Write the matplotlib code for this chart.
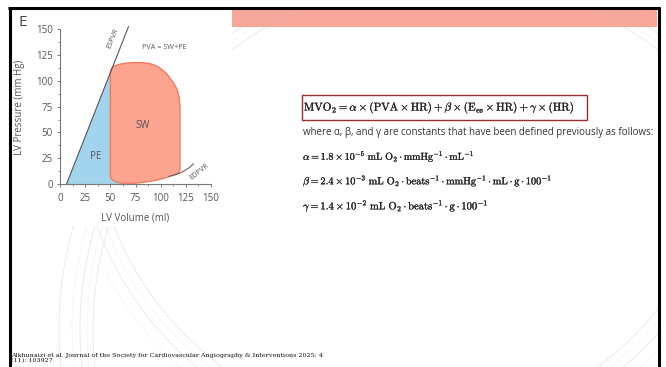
import numpy as np
import matplotlib.pyplot as plt
import matplotlib.patheffects as pe
from matplotlib.patches import Rectangle, Circle, Polygon

plt.rcParams['mathtext.fontset'] = 'cm'

# pressure-volume loop (LV volume in ml, LV pressure in mm Hg)
vol_ticks = [0, 25, 50, 75, 100, 125, 150]
pres_ticks = [0, 25, 50, 75, 100, 125, 150]

espvr_vol = [6.5, 68]
espvr_pres = [0, 152.5]

loop_top_vol = [50, 50, 50.6, 52, 55, 60, 67, 75, 82, 89, 95, 100, 104, 107.5,
                110, 112.5, 115, 117, 118.5, 119.2, 119.2, 118.5, 117]
loop_top_pres = [7, 108, 110.8, 113, 114.8, 116.3, 117.4, 117.8, 117.8, 116.8,
                 114.8, 112, 108.8, 105, 101.5, 98.5, 94.5, 89.5, 83, 76, 14,
                 11.5, 10.2]
loop_bottom_vol = [110, 104.3, 97, 88, 80, 74.5, 67, 61, 57, 53.5, 51.2, 50.2]
loop_bottom_pres = [7.8, 5.8, 4.0, 2.3, 1.3, 0.8, 0.7, 0.9, 1.6, 3.0, 5.0, 7.0]

edpvr_vol = [108, 114, 119, 124, 128.5, 132.5]
edpvr_pres = [7.3, 8.8, 10.5, 13, 16, 19.5]

citation = ("Alkhunaizi et al. Journal of the Society for Cardiovascular "
            "Angiography & Interventions 2025; 4\n(11): 103927")

W, H = 666, 367
fig = plt.figure(figsize=(W / 100, H / 100), dpi=100)

# slide background in pixel units
bg = fig.add_axes([0, 0, 1, 1])
bg.set_xlim(0, W)
bg.set_ylim(H, 0)
bg.axis('off')

bg.add_patch(Rectangle((232, 10), 425, 17, color='#f9a69b', lw=0, zorder=1))

frame = Rectangle((10, 9), 648, 360, transform=bg.transData)
arc_sets = [((445, 330), [352, 358, 365, 373, 386]),
            ((410, 110), [318, 326, 334, 345])]
for (cx, cy), radii in arc_sets:
    for i, r in enumerate(radii):
        c = Circle((cx, cy), r, fill=False, ec='#c4c4c4', lw=0.6, alpha=0.4,
                   ls=':' if i % 2 else '-', zorder=2)
        bg.add_patch(c)
        c.set_clip_path(frame)

bg.add_patch(Rectangle((11, 10), 221, 216, color='white', lw=0, zorder=3))

bg.plot([9.5, 9.5], [7, H], color='black', lw=2.2, zorder=5, solid_capstyle='butt')
bg.plot([8, 660], [8, 8], color='black', lw=2.2, zorder=5, solid_capstyle='butt')
bg.plot([659, 659], [7, H], color='black', lw=2.2, zorder=5, solid_capstyle='butt')

# equations
bold = [pe.withStroke(linewidth=0.2, foreground='#333')]
bg.add_patch(Rectangle((302, 95), 285, 25, fill=False, ec='#9b2d2d', lw=1, zorder=4))
bg.text(304, 108, r'$\mathrm{MVO_2} = \alpha \times (\mathrm{PVA} \times \mathrm{HR})'
        r' + \beta \times (\mathrm{E_{es}} \times \mathrm{HR}) + \gamma \times (\mathrm{HR})$',
        fontsize=8.1, va='center', ha='left', color='#222', zorder=4, path_effects=bold)
bg.text(303, 132, 'where α, β, and γ are constants that have been defined previously as follows:',
        fontsize=7.0, family=['Open Sans', 'DejaVu Sans'], va='center', ha='left',
        color='#333', zorder=4)
bg.text(303, 156, r'$\alpha = 1.8 \times 10^{-5}\ \mathrm{mL\ O_2} \cdot \mathrm{mmHg}^{-1}'
        r' \cdot \mathrm{mL}^{-1}$', fontsize=7.2, va='center', ha='left', color='#222',
        zorder=4, path_effects=bold)
bg.text(303, 181, r'$\beta = 2.4 \times 10^{-3}\ \mathrm{mL\ O_2} \cdot \mathrm{beats}^{-1}'
        r' \cdot \mathrm{mmHg}^{-1} \cdot \mathrm{mL} \cdot \mathrm{g} \cdot 100^{-1}$',
        fontsize=7.4, va='center', ha='left', color='#222', zorder=4, path_effects=bold)
bg.text(303, 206, r'$\gamma = 1.4 \times 10^{-2}\ \mathrm{mL\ O_2} \cdot \mathrm{beats}^{-1}'
        r' \cdot \mathrm{g} \cdot 100^{-1}$', fontsize=7.6, va='center', ha='left',
        color='#222', zorder=4, path_effects=bold)

bg.text(11, 353, citation, fontsize=4.6, family='DejaVu Serif', va='top', ha='left',
        color='#111', linespacing=1.0, zorder=4)

bg.text(19, 23, 'E', fontsize=11, family='Open Sans', va='center', ha='left',
        color='#444', zorder=4)

# PV loop panel
ax = fig.add_axes([60 / W, 1 - 184 / H, 151 / W, 154.7 / H], zorder=6)
ax.patch.set_alpha(0)
ax.set_xlim(0, 150)
ax.set_ylim(0, 150)

pe_vol = [espvr_vol[0], 50] + [v for v in loop_bottom_vol[::-1] if v <= 75] + [78]
pe_pres = [0, 108] + [p for v, p in zip(loop_bottom_vol[::-1], loop_bottom_pres[::-1])
                      if v <= 75] + [0]
ax.add_patch(Polygon(np.column_stack([pe_vol, pe_pres]), closed=True,
                     fc='#a3d4ee', ec='none', zorder=1))

loop_vol = loop_top_vol + loop_bottom_vol
loop_pres = loop_top_pres + loop_bottom_pres
ax.add_patch(Polygon(np.column_stack([loop_vol, loop_pres]), closed=True,
                     fc='#fba48f', ec='#f27457', lw=0.9, zorder=2))

ax.plot(espvr_vol, espvr_pres, color='#555', lw=0.8, zorder=3, clip_on=False)
ax.plot(edpvr_vol, edpvr_pres, color='#666', lw=0.8, zorder=3, clip_on=False)

txt = dict(family='Open Sans', color='#555', ha='center', va='center')
ax.text(82, 57, 'SW', fontsize=7, **txt)
ax.text(35, 27, 'PE', fontsize=7, **txt)
ax.text(104, 132, 'PVA = SW+PE', fontsize=5.2, **txt)
ax.text(53, 141, 'ESPVR', fontsize=5.2, rotation=68, **txt)
ax.text(138, 12, 'EDPVR', fontsize=5.2, rotation=38, **txt)

for s in ['top', 'right']:
    ax.spines[s].set_visible(False)
for s in ['left', 'bottom']:
    ax.spines[s].set_color('#777')
    ax.spines[s].set_linewidth(0.8)

ax.set_xticks(vol_ticks)
ax.set_yticks(pres_ticks)
ax.set_xticks(np.arange(0, 151, 12.5), minor=True)
ax.set_yticks(np.arange(0, 151, 12.5), minor=True)
ax.tick_params(which='major', length=2.5, width=0.7, color='#777', labelsize=7,
               labelcolor='#555', pad=2.5)
ax.tick_params(which='minor', length=1.5, width=0.6, color='#777')
ax.tick_params(axis='x', which='major', pad=4)
for lab in ax.get_xticklabels() + ax.get_yticklabels():
    lab.set_family('Open Sans')

ax.set_xlabel('LV Volume (ml)', fontsize=7, family='Open Sans', color='#555')
ax.set_ylabel('LV Pressure (mm Hg)', fontsize=7, family='Open Sans', color='#555')
ax.xaxis.set_label_coords(0.497, -0.181)
ax.yaxis.set_label_coords(-0.232, 0.498)

fig.savefig('out.png', dpi=100)
